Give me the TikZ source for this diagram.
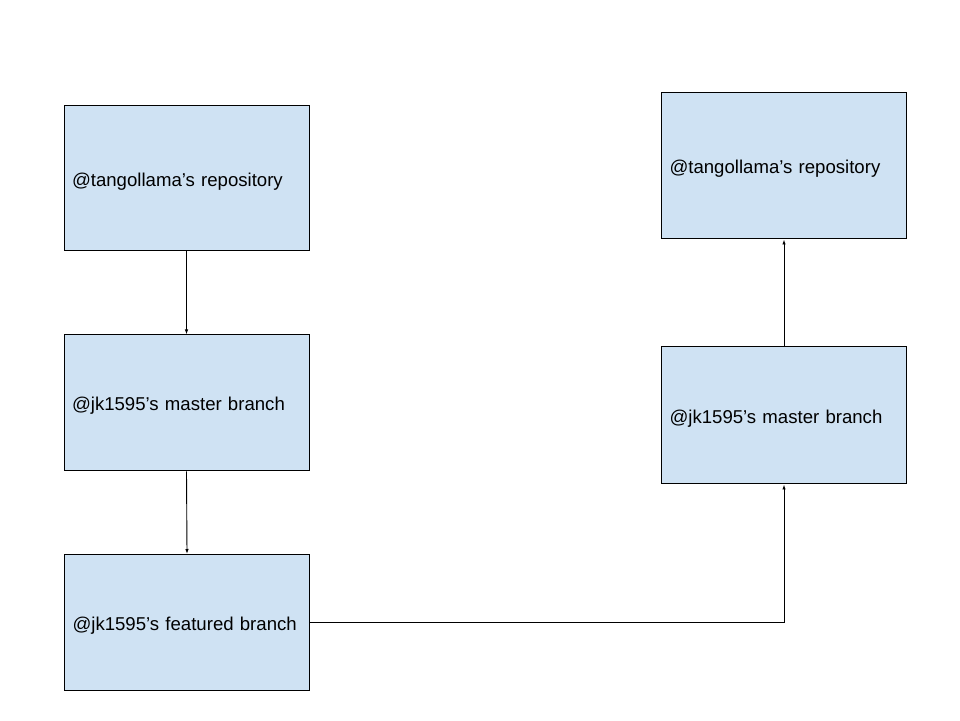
\documentclass[tikz,border=0pt]{standalone}
\usepackage{fontspec}
\setmainfont{Liberation Sans}
\usetikzlibrary{arrows.meta}
\definecolor{boxfill}{HTML}{CFE2F3}
\newcommand{\boxtxt}[1]{\raisebox{-3pt}[\height][\depth]{#1}}
\tikzset{
  box/.style={draw=black, fill=boxfill, line width=1pt, minimum width=245pt, minimum height=#1,
    inner xsep=8pt, inner ysep=0pt, text width=229pt, align=left, font=\fontsize{18.6}{22}\selectfont},
  conn/.style={draw=black, line width=0.9pt, -{Latex[length=5pt,width=3.5pt]}}
}
\begin{document}
\begin{tikzpicture}[x=1pt,y=1pt]
\useasboundingbox (0,0) rectangle (960,720);
\node[box=145pt] (l1) at (186.5,541.5) {\boxtxt{@tangollama’s repository}};
\node[box=136pt] (l2) at (186.5,317) {\boxtxt{@jk1595’s master branch}};
\node[box=136pt] (l3) at (187,97.5) {\boxtxt{@jk1595’s featured branch}};
\node[box=146pt] (r1) at (784,554) {\boxtxt{@tangollama’s repository}};
\node[box=137pt] (r2) at (784,304.5) {\boxtxt{@jk1595’s master branch}};
\draw[conn] (l1.south) -- (l2.north);
\draw[conn] (l2.south) -- (l3.north);
\draw[conn] (l3.east) -| (r2.south);
\draw[conn] (r2.north) -- (r1.south);
\end{tikzpicture}
\end{document}
